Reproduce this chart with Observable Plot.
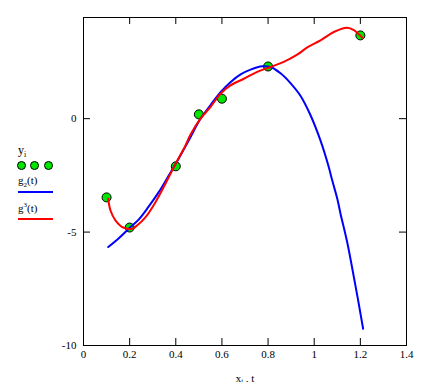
<!DOCTYPE html>
<html><head><meta charset="utf-8">
<script src="https://cdn.jsdelivr.net/npm/d3@7"></script>
<script src="https://cdn.jsdelivr.net/npm/@observablehq/plot@0.6"></script>
<style>
body{margin:0;background:#fff;}
#wrap{position:relative;width:429px;height:382px;font-family:"Liberation Serif","Times New Roman",serif;color:#000;}
#chart{position:absolute;left:0;top:0;}
#chart svg text{font-family:"Liberation Serif","Times New Roman",serif;}
.lg{position:absolute;font-size:11px;line-height:1;white-space:nowrap;}
.dotsw{position:absolute;width:9px;height:9px;border-radius:50%;background:#00e600;border:1px solid #000;box-sizing:border-box;}
.sw{position:absolute;height:2px;width:35px;}
</style></head>
<body>
<div id="wrap">
  <div id="chart"></div>
  <div class="lg" style="left:18px;top:144px;font-size:12px;">y<sub style="font-size:8px;">i</sub></div>
  <div class="dotsw" style="left:17px;top:161px;"></div>
  <div class="dotsw" style="left:30px;top:161px;"></div>
  <div class="dotsw" style="left:44px;top:161px;"></div>
  <div class="lg" style="left:18px;top:175px;">g<sub style="font-size:7px;">2</sub>(t)</div>
  <div class="sw" style="left:18px;top:191px;background:#0000ff;"></div>
  <div class="lg" style="left:18px;top:202px;">g<sup style="font-size:7px;">3</sup>(t)</div>
  <div class="sw" style="left:18px;top:218px;background:#ff0000;"></div>
</div>
<script>
const xTicks = [0, 0.2, 0.4, 0.6, 0.8, 1, 1.2, 1.4];
const yTicks = [-10, -5, 0];

const xi = [0.1, 0.2, 0.4, 0.5, 0.6, 0.8, 1.2];
const yi = [-3.47, -4.8, -2.1, 0.19, 0.88, 2.3, 3.67];

const tBlue = [0.107, 0.153, 0.196, 0.240, 0.283, 0.326, 0.370, 0.413, 0.456, 0.507, 0.550, 0.594, 0.637, 0.681, 0.724, 0.775, 0.811, 0.854, 0.897, 0.941, 0.984, 1.027, 1.063, 1.078, 1.100, 1.114, 1.143, 1.172, 1.193, 1.212];
const g2Vals = [-5.66, -5.27, -4.85, -4.44, -3.87, -3.24, -2.50, -1.76, -0.96, 0.0, 0.59, 1.17, 1.61, 1.95, 2.16, 2.31, 2.28, 2.0, 1.57, 1.0, 0.15, -0.96, -2.13, -2.72, -3.53, -4.19, -5.45, -6.99, -8.16, -9.26];

const tRed = [0.107, 0.117, 0.139, 0.175, 0.211, 0.232, 0.269, 0.312, 0.355, 0.399, 0.442, 0.464, 0.507, 0.550, 0.594, 0.637, 0.695, 0.753, 0.811, 0.868, 0.926, 0.970, 1.027, 1.085, 1.143, 1.172, 1.208];
const g3Vals = [-3.53, -4.05, -4.49, -4.81, -4.85, -4.71, -4.34, -3.68, -2.87, -1.99, -1.18, -0.70, 0.0, 0.51, 1.10, 1.47, 1.76, 2.06, 2.28, 2.50, 2.82, 3.14, 3.45, 3.82, 4.01, 3.90, 3.57];

const pts = xi.map((x, i) => ({x, y: yi[i]}));
const blue = tBlue.map((t, i) => ({t, v: g2Vals[i]}));
const red = tRed.map((t, i) => ({t, v: g3Vals[i]}));
const fmt = d => String(d);

const W = 429, H = 382, ML = 83, MR = 23, MT = 17, MB = 37, TK = 7;
const PW = W - ML - MR, PH = H - MT - MB;

const chart = Plot.plot({
  width: W, height: H,
  marginLeft: ML, marginRight: MR, marginTop: MT, marginBottom: MB,
  style: {fontFamily: "'Liberation Serif', 'Times New Roman', serif", fontSize: "11px", background: "white", color: "black", overflow: "visible"},
  x: {domain: [0, 1.4]},
  y: {domain: [-10, 4.46]},
  marks: [
    Plot.axisX(xTicks, {anchor: "bottom", tickSize: 0, tickPadding: 5, tickFormat: fmt, label: "xᵢ , t", labelAnchor: "center", labelArrow: "none", labelOffset: 36}),
    Plot.axisY(yTicks, {anchor: "left", tickSize: 0, tickPadding: 7, tickFormat: fmt, label: null}),
    Plot.tickX(xTicks, {x: d => d, stroke: "black", strokeWidth: 1, insetTop: PH - TK}),
    Plot.tickX(xTicks, {x: d => d, stroke: "black", strokeWidth: 1, insetBottom: PH - TK}),
    Plot.tickY(yTicks, {y: d => d, stroke: "black", strokeWidth: 1, insetRight: PW - TK}),
    Plot.tickY(yTicks, {y: d => d, stroke: "black", strokeWidth: 1, insetLeft: PW - TK}),
    Plot.frame({stroke: "black", strokeWidth: 1}),
    Plot.dot(pts, {x: "x", y: "y", r: 4.5, fill: "#00e600", stroke: "black", strokeWidth: 1}),
    Plot.line(blue, {x: "t", y: "v", stroke: "#0000ff", strokeWidth: 2, curve: "catmull-rom"}),
    Plot.line(red, {x: "t", y: "v", stroke: "#ff0000", strokeWidth: 2, curve: "catmull-rom"})
  ]
});
document.getElementById("chart").appendChild(chart);
</script>
</body></html>
